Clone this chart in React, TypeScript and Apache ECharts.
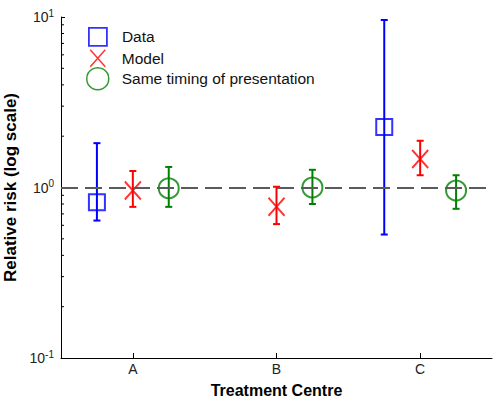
import React, { useEffect, useRef } from "react";
import * as echarts from "echarts";

const categories = ["A", "B", "C"];
const seriesNames = ["Data", "Model", "Same timing of presentation"];

const dataMean: (number | null)[] = [0.82, null, 2.26];
const dataLow: (number | null)[] = [0.64, null, 0.53];
const dataHigh: (number | null)[] = [1.82, null, 9.6];

const modelMean = [0.96, 0.77, 1.47];
const modelLow = [0.77, 0.61, 1.18];
const modelHigh = [1.25, 1.01, 1.88];

const sameMean = [0.99, 1.0, 0.96];
const sameLow = [0.77, 0.8, 0.75];
const sameHigh = [1.32, 1.27, 1.18];

const yMin = 0.1;
const yMax = 10;
const referenceValue = 1;
const minorTickValues = [0.2, 0.3, 0.4, 0.5, 0.6, 0.7, 0.8, 0.9, 2, 3, 4, 5, 6, 7, 8, 9];

const FONT = 'Arial, "Liberation Sans", Helvetica, sans-serif';

function buildPoints(
  mean: (number | null)[],
  low: (number | null)[],
  high: (number | null)[],
  offset: number
) {
  const out: number[][] = [];
  mean.forEach((m, i) => {
    if (m == null || low[i] == null || high[i] == null) return;
    out.push([i + 1 + offset, m, low[i] as number, high[i] as number]);
  });
  return out;
}

function errorBarSeries(name: string, color: string, points: number[][]) {
  return {
    type: "custom",
    name,
    xAxisIndex: 1,
    yAxisIndex: 0,
    silent: true,
    clip: false,
    encode: { x: 0, y: [1, 2, 3] },
    data: points,
    renderItem: (_params: any, api: any) => {
      const x = api.value(0);
      const pLo = api.coord([x, api.value(2)]);
      const pHi = api.coord([x, api.value(3)]);
      const style = { stroke: color, lineWidth: 2, fill: "none" };
      const cap = 3.5;
      return {
        type: "group",
        children: [
          { type: "line", shape: { x1: pLo[0], y1: pLo[1], x2: pHi[0], y2: pHi[1] }, style },
          { type: "line", shape: { x1: pLo[0] - cap, y1: pLo[1], x2: pLo[0] + cap, y2: pLo[1] }, style },
          { type: "line", shape: { x1: pHi[0] - cap, y1: pHi[1], x2: pHi[0] + cap, y2: pHi[1] }, style },
        ],
      };
    },
  };
}

const X_PATH = "path://M0,0L16,18M16,0L0,18";
const SQ_PATH = "path://M0,0H10V10H0Z";

export default function App() {
  const ref = useRef<HTMLDivElement>(null);

  useEffect(() => {
    document.body.style.margin = "0";
    if (!ref.current) return;
    const chart = echarts.init(ref.current, null, { renderer: "svg" });

    const blue = "#0000ff";
    const red = "#ff0000";
    const green = "#008000";

    const dataPts = buildPoints(dataMean, dataLow, dataHigh, -0.25);
    const modelPts = buildPoints(modelMean, modelLow, modelHigh, 0);
    const samePts = buildPoints(sameMean, sameLow, sameHigh, 0.25);

    const legendBase = {
      padding: 0,
      itemWidth: 38,
      orient: "vertical",
      selectedMode: false,
      textStyle: { fontFamily: FONT, fontSize: 15.5, color: "#111" },
    };

    const option: any = {
      animation: false,
      backgroundColor: "#ffffff",
      textStyle: { fontFamily: FONT },
      grid: { left: 61, right: 6, top: 17, bottom: 42, containLabel: false, outerBoundsMode: "none" },
      legend: [
        {
          ...legendBase,
          left: 88,
          top: 27,
          itemHeight: 18,
          data: [
            {
              name: seriesNames[0],
              icon: SQ_PATH,
              itemStyle: { color: "transparent", borderColor: blue, borderWidth: 1.8 },
            },
          ],
        },
        {
          ...legendBase,
          left: 89.5,
          top: 49,
          itemHeight: 17,
          data: [
            {
              name: seriesNames[1],
              icon: "path://M0,0L15,17M15,0L0,17",
              itemStyle: { color: "transparent", borderColor: red, borderWidth: 1.5 },
            },
          ],
        },
        {
          ...legendBase,
          left: 86,
          top: 67,
          itemHeight: 22,
          data: [
            {
              name: seriesNames[2],
              icon: "circle",
              itemStyle: { color: "transparent", borderColor: green, borderWidth: 1.5 },
            },
          ],
        },
      ],
      xAxis: [
        {
          type: "category",
          data: categories,
          position: "bottom",
          boundaryGap: true,
          name: "Treatment Centre",
          nameLocation: "middle",
          nameGap: 24,
          nameTextStyle: { fontFamily: FONT, fontSize: 16, fontWeight: "bold", color: "#000" },
          axisLine: { show: true, lineStyle: { color: "#000", width: 1 } },
          axisTick: { show: true, inside: true, alignWithLabel: true, length: 5, lineStyle: { color: "#000" } },
          axisLabel: { fontFamily: FONT, fontSize: 14, color: "#222", margin: 4 },
          splitLine: { show: false },
        },
        {
          type: "value",
          min: 0.5,
          max: 3.5,
          show: false,
          splitLine: { show: false },
        },
      ],
      yAxis: {
        type: "log",
        logBase: 10,
        min: yMin,
        max: yMax,
        name: "Relative risk (log scale)",
        nameLocation: "middle",
        nameGap: 40,
        nameTextStyle: { fontFamily: FONT, fontSize: 17, fontWeight: "bold", color: "#000" },
        axisLine: { show: true, lineStyle: { color: "#000", width: 1 } },
        axisTick: { show: true, inside: true, length: 4, lineStyle: { color: "#000" } },
        axisLabel: {
          fontFamily: FONT,
          fontSize: 14,
          color: "#222",
          margin: 7,
          formatter: (v: number) => "10{sup|" + Math.round(Math.log10(v)) + "}",
          rich: {
            sup: { fontFamily: FONT, fontSize: 10, color: "#222", padding: [0, 0, 8, 0] },
          },
        },
        splitLine: { show: false },
      },
      series: [
        {
          type: "custom",
          name: "minor ticks",
          xAxisIndex: 1,
          yAxisIndex: 0,
          silent: true,
          clip: false,
          data: minorTickValues.map((v) => [0.5, v]),
          renderItem: (_params: any, api: any) => {
            const p = api.coord([api.value(0), api.value(1)]);
            return {
              type: "line",
              shape: { x1: p[0], y1: p[1], x2: p[0] + 3, y2: p[1] },
              style: { stroke: "#000", lineWidth: 1 },
            };
          },
        },
        {
          type: "scatter",
          name: "reference",
          xAxisIndex: 1,
          yAxisIndex: 0,
          silent: true,
          data: [],
          markLine: {
            silent: true,
            symbol: ["none", "none"],
            label: { show: false },
            lineStyle: { color: "#5a5a5a", width: 2, type: [17, 7] },
            data: [{ yAxis: referenceValue }],
          },
        },
        errorBarSeries("Data error", blue, dataPts),
        errorBarSeries("Model error", red, modelPts),
        errorBarSeries("Same error", green, samePts),
        {
          type: "scatter",
          name: seriesNames[0],
          xAxisIndex: 1,
          yAxisIndex: 0,
          symbol: SQ_PATH,
          symbolSize: 16,
          itemStyle: { color: "transparent", borderColor: blue, borderWidth: 2 },
          data: dataPts.map((p) => [p[0], p[1]]),
        },
        {
          type: "scatter",
          name: seriesNames[1],
          xAxisIndex: 1,
          yAxisIndex: 0,
          symbol: X_PATH,
          symbolSize: [16, 18],
          itemStyle: { color: "transparent", borderColor: red, borderWidth: 2 },
          data: modelPts.map((p) => [p[0], p[1]]),
        },
        {
          type: "scatter",
          name: seriesNames[2],
          xAxisIndex: 1,
          yAxisIndex: 0,
          symbol: "circle",
          symbolSize: 20,
          itemStyle: { color: "transparent", borderColor: green, borderWidth: 2 },
          data: samePts.map((p) => [p[0], p[1]]),
        },
      ],
    };

    chart.setOption(option);
    return () => chart.dispose();
  }, []);

  return <div ref={ref} style={{ width: 498, height: 400 }} />;
}
